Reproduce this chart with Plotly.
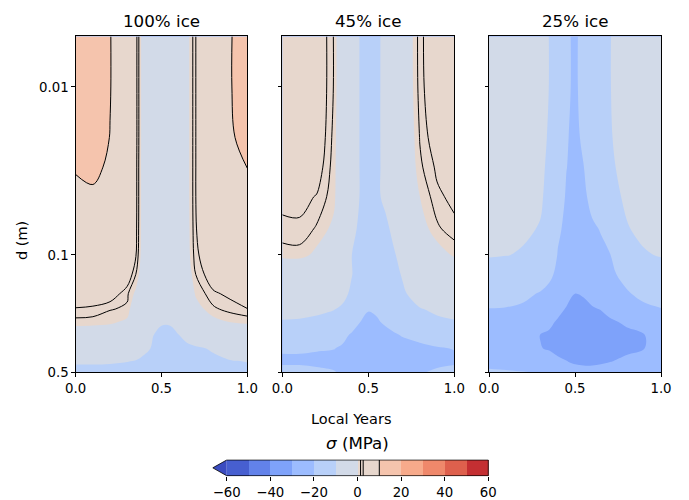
import plotly.graph_objects as go

# ---------------- data ----------------
X = [0, 0.1, 0.2, 0.3, 0.35, 0.4, 0.45, 0.5, 0.55, 0.6, 0.65, 0.7, 0.8, 0.9, 1.0]
DEPTH = [0.005, 0.01, 0.02, 0.03, 0.045, 0.07, 0.1, 0.13, 0.17, 0.21, 0.25, 0.3, 0.36, 0.43, 0.5]

SIGMA_100 = [
    [15, 13, 10.2, 6, 3.3, -2, -5, -6, -6, -4.5, -0.8, 2.6, 6, 9.5, 14],
    [15, 13, 10.2, 6, 3.3, -2, -5, -6, -6, -4.5, -0.8, 2.6, 6, 9.6, 13.5],
    [14, 12.5, 9.9, 6, 3.3, -2, -5, -6, -6, -4.5, -0.8, 2.6, 6, 9.2, 12],
    [10.4, 11, 9.3, 6, 3.2, -2, -5, -6, -6, -4.5, -0.8, 2.6, 5.8, 8.6, 10.05],
    [8.8, 9.3, 8.2, 5.8, 3.2, -2, -5, -6, -6, -4.5, -0.8, 2.6, 5.4, 7.5, 8.7],
    [7.2, 7.4, 6.8, 5.2, 3.1, -2, -5, -6, -6, -4.5, -0.9, 2.5, 4.9, 6.3, 7],
    [6, 6, 5.6, 4.6, 2.8, -2.2, -5, -6, -6, -4.5, -1.0, 2.2, 4.4, 5.4, 6],
    [5.0, 5.0, 4.8, 4.13, 1.45, -2.5, -5, -6, -6, -4.8, -1.6, 1.45, 3.8, 4.6, 5.2],
    [4.2, 4.2, 3.8, 1.68, -0.5, -3.2, -5.2, -6.5, -6.5, -5.2, -2.4, 0.3, 2.3, 3.0, 3.8],
    [2.45, 2.22, 1.5, 1.17, -2.7, -4.5, -6, -7, -7, -5.5, -3.0, -1.0, 1.1, 1.9, 2.55],
    [0.93, 0.85, 0.5, -0.5, -2.5, -5, -7, -9.6, -9.6, -8, -5.5, -3.5, -0.8, 0.1, 0.46],
    [-2.1, -2.3, -2.2, -3.5, -5, -7.5, -9.9, -11, -11, -10.1, -8.5, -7, -5, -3.2, -2.8],
    [-5, -5, -5.3, -6, -7, -8.8, -10.5, -12, -12, -11.5, -11, -10.6, -9.6, -7.5, -6],
    [-9.6, -9.6, -9.7, -9.9, -10.3, -11.3, -12.5, -13, -13, -12.5, -12, -11.5, -10.8, -10.3, -9.9],
    [-11, -11, -11, -11.5, -12, -13, -14, -14.5, -14.5, -14, -13.5, -13, -12, -11.5, -11],
]

SIGMA_45 = [
    [5, 5, 4.4, 1.3, -3, -6.5, -10.1, -12, -11, -8.5, -5.5, -3, 2.1, 4.5, 5],
    [5, 5, 4.4, 1.3, -3, -6.5, -10.1, -12, -11, -8.5, -5.5, -3, 2.0, 4.4, 5],
    [4.6, 4.6, 4.2, 1.0, -3.2, -6.5, -10.1, -12, -11, -8.5, -5.5, -3.2, 1.5, 3.8, 4.6],
    [3.9, 3.9, 3.6, 0.8, -3.3, -6.5, -10.1, -12, -11, -8.6, -5.6, -3.5, 1.1, 2.9, 3.8],
    [3.1, 3.1, 2.5, 0.6, -3.3, -6.6, -10.1, -12, -11, -8.7, -5.8, -3.6, 0.0, 2.3, 3.0],
    [2.21, 2.32, 1.2, -0.6, -3.6, -8.2, -11, -12.5, -12, -11.3, -8.5, -5.5, -1.2, 1.1, 2.23],
    [0.7, 0.8, -0.6, -2.5, -5, -9.8, -12, -13, -12.5, -12, -10.5, -8, -3.5, -1.2, 0.3],
    [-3.5, -3.5, -3.5, -4.2, -6, -9.6, -12.3, -13.5, -13, -12.5, -11.5, -9.5, -5.5, -3.5, -2.5],
    [-5.5, -5.5, -6, -7, -8.5, -10.8, -13, -14.5, -14, -13.5, -12.5, -10.8, -7.5, -6, -5.5],
    [-8.5, -8.5, -9, -9.8, -10.8, -12.5, -15, -19.5, -18.5, -16, -14, -12, -10.3, -9, -8.7],
    [-10.3, -10.5, -11, -12, -13, -15.5, -19.8, -22, -21, -18.5, -16.5, -14.5, -12.5, -11, -10.3],
    [-14, -14, -14.5, -16, -18, -20.8, -23, -24.5, -24, -23, -21, -19.5, -18, -16.5, -15.5],
    [-19.3, -19.3, -19.5, -19.8, -21, -23, -25, -26, -26, -25, -24, -23, -21.5, -20.5, -19.8],
    [-21, -21, -21.5, -22, -23, -24.5, -26, -27, -27, -26, -25, -24, -22.5, -21.5, -21],
    [-18, -18, -18.5, -19.5, -21, -23, -25, -26, -26, -25, -24, -22, -20.5, -19, -18],
]

SIGMA_25 = [
    [-6, -6.5, -7.5, -9, -10.05, -13, -18.5, -21.5, -17, -13.5, -11.5, -10.2, -8, -6.8, -6],
    [-6, -6.5, -7.5, -9, -10.05, -13, -18.5, -21.5, -17, -13.5, -11.5, -10.2, -8, -6.8, -6],
    [-6.2, -6.7, -7.7, -9.2, -10.3, -13.5, -19.3, -22, -18.5, -14, -12, -10.4, -8.2, -7, -6.2],
    [-6.4, -6.9, -8, -9.5, -10.5, -14, -19.8, -22.5, -20.2, -14.5, -12.5, -10.8, -8.6, -7.2, -6.4],
    [-6.8, -7.3, -8.4, -9.6, -11, -15, -21, -23.5, -22, -17, -13.5, -11.5, -9.3, -7.8, -7],
    [-7.8, -8.3, -9.5, -10.2, -12, -18.5, -22, -24.5, -23.5, -21.5, -19.5, -16, -10.3, -9, -8.5],
    [-9.7, -9.9, -10.3, -11.2, -13, -20.5, -23, -25.5, -25, -23.5, -22, -20.5, -14, -10.4, -9.7],
    [-12, -12.3, -13, -14.5, -18, -22, -24.5, -27, -26.5, -25, -23.5, -22, -17, -13.5, -12.3],
    [-16, -16.3, -18, -20.8, -22.5, -25, -27.5, -30, -29.5, -28, -26.5, -25, -21, -17.5, -16.5],
    [-20.2, -20.5, -21.5, -23, -25, -28, -30.5, -31.5, -31.5, -30.5, -29.8, -28, -25, -22, -20.3],
    [-22, -22.5, -24, -26, -28.5, -30.8, -32.5, -33.5, -33.5, -33, -32, -31, -29, -26.5, -24],
    [-23, -23.5, -27, -30.2, -31, -32.5, -34, -35, -35, -34.5, -33.5, -32.5, -31.5, -30.3, -27],
    [-23.5, -24, -26.5, -29.8, -30.5, -31.5, -33, -34.5, -34.5, -34, -33, -32, -31.5, -30.2, -27],
    [-22, -22.5, -24, -26, -27.5, -29, -29.8, -31, -31.5, -31.5, -31, -30.3, -28.5, -26, -24],
    [-19, -19.3, -19.6, -20.2, -22, -24, -26, -27, -27.5, -27.5, -27, -26, -24, -22, -21],
]

PANELS = [SIGMA_100, SIGMA_45, SIGMA_25]
TITLES = ["100% ice", "45% ice", "25% ice"]

FILL_LEVELS = [-60, -50, -40, -30, -20, -10, 0, 10, 20, 30, 40, 50, 60]
LINE_LEVELS = [1.4, 2.6, 10]
BAND_COLORS = ["#475fd0", "#6282ea", "#7ea2fa", "#9cbcff", "#b8d0f9", "#d2dae8",
               "#e7d7cd", "#f5c4ad", "#f7aa8b", "#ef886b", "#de604d", "#c42f32"]
UNDER_COLOR = "#3b4cc0"

X_TICKS = [0, 0.5, 1.0]
Y_TICKS = [0.01, 0.1, 0.5]
Y_TICK_TEXT = ["0.01", "0.1", "0.5"]
CBAR_TICKS = [-60, -40, -20, 0, 20, 40, 60]

# ---------------- figure geometry ----------------
OFF = 8                      # page body margin of the viewer
W, H = 689 - OFF, 500 - OFF  # figure size that fits the window
FONT = "DejaVu Sans"


def px(sx):
    return (sx - OFF) / W


def py(sy):
    return 1 - (sy - OFF) / H


colorscale = [[k / (len(BAND_COLORS) - 1), c] for k, c in enumerate(BAND_COLORS)]
step = FILL_LEVELS[1] - FILL_LEVELS[0]
SMOOTH = 1.0

fig = go.Figure()

x_domains = [(px(75.7), px(247.3)), (px(282.3), px(454.3)), (px(489.0), px(661.0))]
y_domain = (py(372.4), py(36.4))

for i, z in enumerate(PANELS):
    xa = "x" if i == 0 else f"x{i+1}"
    ya = "y" if i == 0 else f"y{i+1}"
    fig.add_trace(go.Contour(
        x=X, y=DEPTH, z=z, xaxis=xa, yaxis=ya,
        autocontour=False,
        contours=dict(start=FILL_LEVELS[1], end=FILL_LEVELS[-2], size=step,
                      coloring="fill", showlines=False),
        colorscale=colorscale, showscale=False,
        line=dict(width=0, smoothing=SMOOTH),
        hoverinfo="skip",
    ))
    for lv in LINE_LEVELS:
        fig.add_trace(go.Contour(
            x=X, y=DEPTH, z=z, xaxis=xa, yaxis=ya,
            autocontour=False,
            contours=dict(start=lv, end=lv, size=1, coloring="none", showlines=True),
            line=dict(color="black", width=1.0, smoothing=SMOOTH),
            showscale=False, hoverinfo="skip",
        ))

axis_common = dict(showline=True, mirror=True, linecolor="black", linewidth=0.8,
                   ticks="outside", ticklen=3.5, tickwidth=0.8, tickcolor="black",
                   showgrid=False, zeroline=False, automargin=False,
                   tickfont=dict(family=FONT, size=13.3, color="black"))

for i in range(3):
    sfx = "" if i == 0 else str(i + 1)
    fig.layout["xaxis" + sfx] = dict(
        axis_common, domain=x_domains[i], range=[0, 1], anchor="y" + sfx,
        tickvals=X_TICKS, tickformat=".1f")
    fig.layout["yaxis" + sfx] = dict(
        axis_common, domain=y_domain, type="log", anchor="x" + sfx,
        range=[0.69897 - 1, -2.30103],
        tickvals=Y_TICKS, ticktext=Y_TICK_TEXT, showticklabels=(i == 0))

# ---------------- colour bar (own small axis) ----------------
mids = [(a + b) / 2 for a, b in zip(FILL_LEVELS[:-1], FILL_LEVELS[1:])]
lo, hi = FILL_LEVELS[0], FILL_LEVELS[-1]
tip = lo - 6.4
fig.add_trace(go.Heatmap(x=mids, y=[0.5], z=[mids], colorscale=colorscale,
                         zmin=mids[0], zmax=mids[-1], showscale=False,
                         xaxis="x4", yaxis="y4", hoverinfo="skip"))
fig.add_trace(go.Scatter(x=[lo, tip, lo, lo], y=[0, 0.5, 1, 0], mode="lines",
                         fill="toself", fillcolor=UNDER_COLOR, line=dict(width=0),
                         xaxis="x4", yaxis="y4", hoverinfo="skip", showlegend=False))
for lv in LINE_LEVELS:
    fig.add_trace(go.Scatter(x=[lv, lv], y=[0, 1], mode="lines",
                             line=dict(color="black", width=1.0),
                             xaxis="x4", yaxis="y4", hoverinfo="skip", showlegend=False))
fig.add_trace(go.Scatter(x=[lo, hi, hi, lo, tip, lo], y=[0, 0, 1, 1, 0.5, 0], mode="lines",
                         line=dict(color="black", width=0.8),
                         xaxis="x4", yaxis="y4", hoverinfo="skip", showlegend=False))

CB_L, CB_R, CB_T, CB_B = 226.7, 488.3, 460.0, 475.7
px_per = (CB_R - CB_L) / (hi - lo)
r_lo, r_hi = -66.6, 60.3
fig.layout.xaxis4 = dict(domain=(px(CB_L - (lo - r_lo) * px_per), px(CB_R + (r_hi - hi) * px_per)),
                         range=[r_lo, r_hi], anchor="y4", showline=False, showgrid=False,
                         zeroline=False, ticks="outside", ticklen=3.5, tickwidth=0.8,
                         tickcolor="black", tickvals=CBAR_TICKS, automargin=False,
                         tickfont=dict(family=FONT, size=13.3, color="black"))
pad = 0.05 * (CB_B - CB_T)
fig.layout.yaxis4 = dict(domain=(py(CB_B + pad), py(CB_T - pad)),
                         range=[-0.05, 1.05], anchor="x4", showline=False, showgrid=False,
                         zeroline=False, showticklabels=False, ticks="", automargin=False)

# ---------------- text ----------------
ann = []
for i, t in enumerate(TITLES):
    ann.append(dict(text=t, x=sum(x_domains[i]) / 2, y=py(21), xref="paper", yref="paper",
                    showarrow=False, font=dict(family=FONT, size=16.7, color="black"),
                    xanchor="center", yanchor="middle"))
ann.append(dict(text="Local Years", x=px(350.7), y=py(419), xref="paper", yref="paper",
                showarrow=False, font=dict(family=FONT, size=14.5, color="black"),
                xanchor="center", yanchor="middle"))
ann.append(dict(text="d (m)", x=px(22), y=py(241), xref="paper", yref="paper",
                showarrow=False, textangle=-90, font=dict(family=FONT, size=14.5, color="black"),
                xanchor="center", yanchor="middle"))
ann.append(dict(text="<i>σ</i> (MPa)", x=px(357.5), y=py(443), xref="paper", yref="paper",
                showarrow=False, font=dict(family=FONT, size=16.7, color="black"),
                xanchor="center", yanchor="middle"))

fig.update_layout(width=W, height=H,
                  margin=dict(l=0, r=0, t=0, b=0, pad=0, autoexpand=False),
                  paper_bgcolor="white", plot_bgcolor="white", showlegend=False,
                  annotations=ann, font=dict(family=FONT, color="black"))

fig.write_html("out.html")
